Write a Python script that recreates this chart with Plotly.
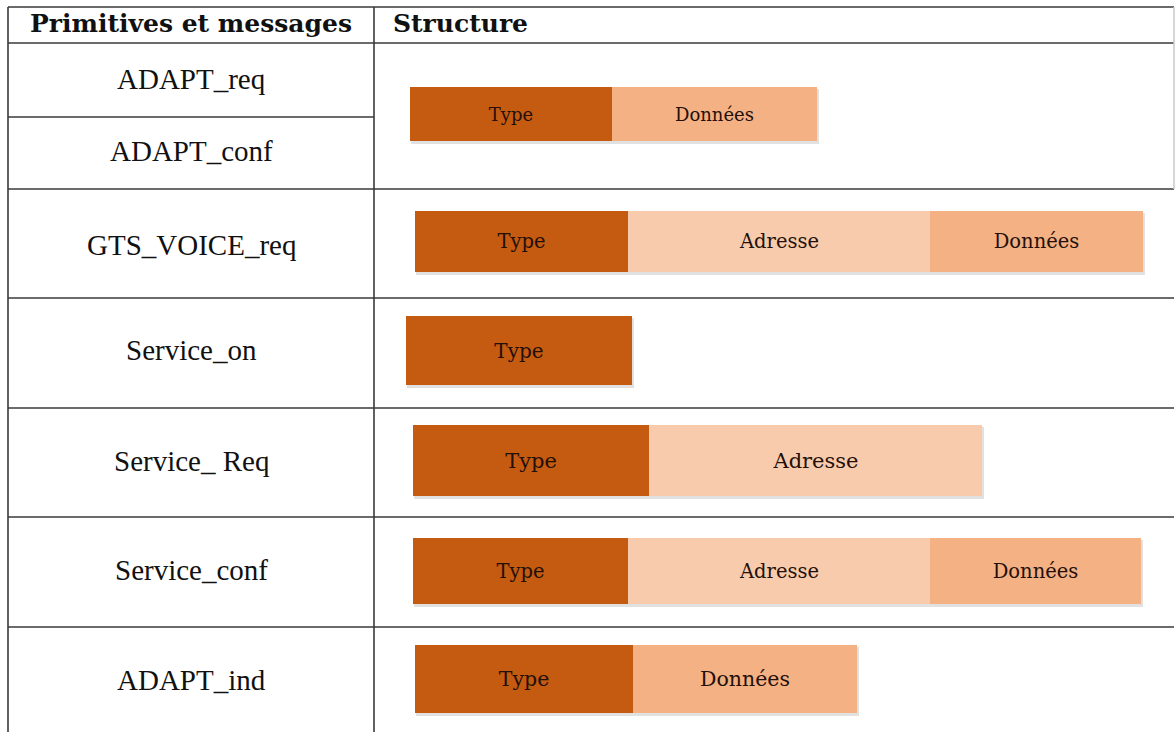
import plotly.graph_objects as go

# ---------------- data ----------------
header = ["Primitives et messages", "Structure"]
primitives = ["ADAPT_req", "ADAPT_conf", "GTS_VOICE_req", "Service_on",
              "Service_ Req", "Service_conf", "ADAPT_ind"]

row_fields = [["Type", "Données"],
              ["Type", "Adresse", "Données"],
              ["Type"],
              ["Type", "Adresse"],
              ["Type", "Adresse", "Données"],
              ["Type", "Données"]]
row_lengths = [[202, 205],
               [213, 302, 213],
               [226],
               [236, 333],
               [215, 302, 211],
               [218, 224]]

# ---------------- layout / style (pixel geometry) ----------------
W, H = 1175, 732
bar_start = [410, 415, 406, 413, 413, 415]
bar_center = [114, 241.5, 350.5, 460.5, 571, 679]
bar_height = [54, 61, 69, 71, 66, 68]
bar_text_size = [18, 19.5, 20, 21, 19.5, 20.5]
field_colors = {"Type": "#C55A11", "Adresse": "#F8CBAD", "Données": "#F4B183"}
label_y = [79, 151, 245, 350, 461, 570, 680]
header_y = 23

x_left, x_mid, x_right = 8, 374, 1174
y_top, y_head = 7, 43
row_bounds = [189, 298, 408, 517, 627]
y_sub = 117

fig = go.Figure()

# soft shadows under the structure bars
for r, lens in enumerate(row_lengths):
    fig.add_trace(go.Bar(
        orientation="h", y=[bar_center[r] + 2], x=[sum(lens) + 1],
        base=[bar_start[r] + 1], width=[bar_height[r] + 1],
        marker=dict(color="rgba(120,120,120,0.22)", line=dict(width=0)),
        hoverinfo="skip", showlegend=False))

for field in ["Type", "Adresse", "Données"]:
    ys, xs, bases, widths, sizes = [], [], [], [], []
    for r, (fields, lens) in enumerate(zip(row_fields, row_lengths)):
        pos = bar_start[r]
        for f, L in zip(fields, lens):
            if f == field:
                ys.append(bar_center[r]); xs.append(L); bases.append(pos)
                widths.append(bar_height[r]); sizes.append(bar_text_size[r])
            pos += L
    fig.add_trace(go.Bar(
        orientation="h", y=ys, x=xs, base=bases, width=widths,
        marker=dict(color=field_colors[field], line=dict(width=0)),
        text=[field] * len(ys), textposition="inside",
        insidetextanchor="middle", textangle=0, constraintext="none",
        textfont=dict(family="DejaVu Serif", size=sizes, color="#24100a"),
        hoverinfo="skip", showlegend=False, name=field))

# table lines
line = dict(color="#3a3a3a", width=1.6)
shapes = []
for y in [y_top, y_head] + row_bounds:
    shapes.append(dict(type="line", x0=x_left, x1=x_right, y0=y, y1=y,
                       xref="x", yref="y", line=line))
shapes.append(dict(type="line", x0=x_left, x1=x_mid, y0=y_sub, y1=y_sub,
                   xref="x", yref="y", line=line))
for x in [x_left, x_mid]:
    shapes.append(dict(type="line", x0=x, x1=x, y0=y_top, y1=H,
                       xref="x", yref="y", line=line))
shapes.append(dict(type="line", x0=x_right, x1=x_right, y0=y_top, y1=row_bounds[0],
                   xref="x", yref="y", line=dict(color="#c8c8c8", width=1.5)))

annotations = [
    dict(x=(x_left + x_mid) / 2, y=header_y, text="<b>" + header[0] + "</b>",
         showarrow=False, xref="x", yref="y",
         font=dict(family="DejaVu Serif", size=25, color="#111")),
    dict(x=x_mid + 17, y=header_y, text="<b>" + header[1] + "</b>",
         showarrow=False, xref="x", yref="y", xanchor="left",
         font=dict(family="DejaVu Serif", size=25, color="#111")),
]
for name, y in zip(primitives, label_y):
    annotations.append(dict(x=(x_left + x_mid) / 2, y=y, text=name, showarrow=False,
                            xref="x", yref="y",
                            font=dict(family="Liberation Serif", size=29, color="#111")))

fig.update_layout(
    width=W, height=H, margin=dict(l=0, r=0, t=0, b=0),
    paper_bgcolor="white", plot_bgcolor="white",
    barmode="overlay", bargap=0,
    xaxis=dict(range=[0, W], visible=False, fixedrange=True),
    yaxis=dict(range=[H, 0], visible=False, fixedrange=True),
    shapes=shapes, annotations=annotations,
)

fig.write_html("out.html", config={"displayModeBar": False},
               post_script="document.body.style.margin='0';document.body.style.overflow='hidden';")
